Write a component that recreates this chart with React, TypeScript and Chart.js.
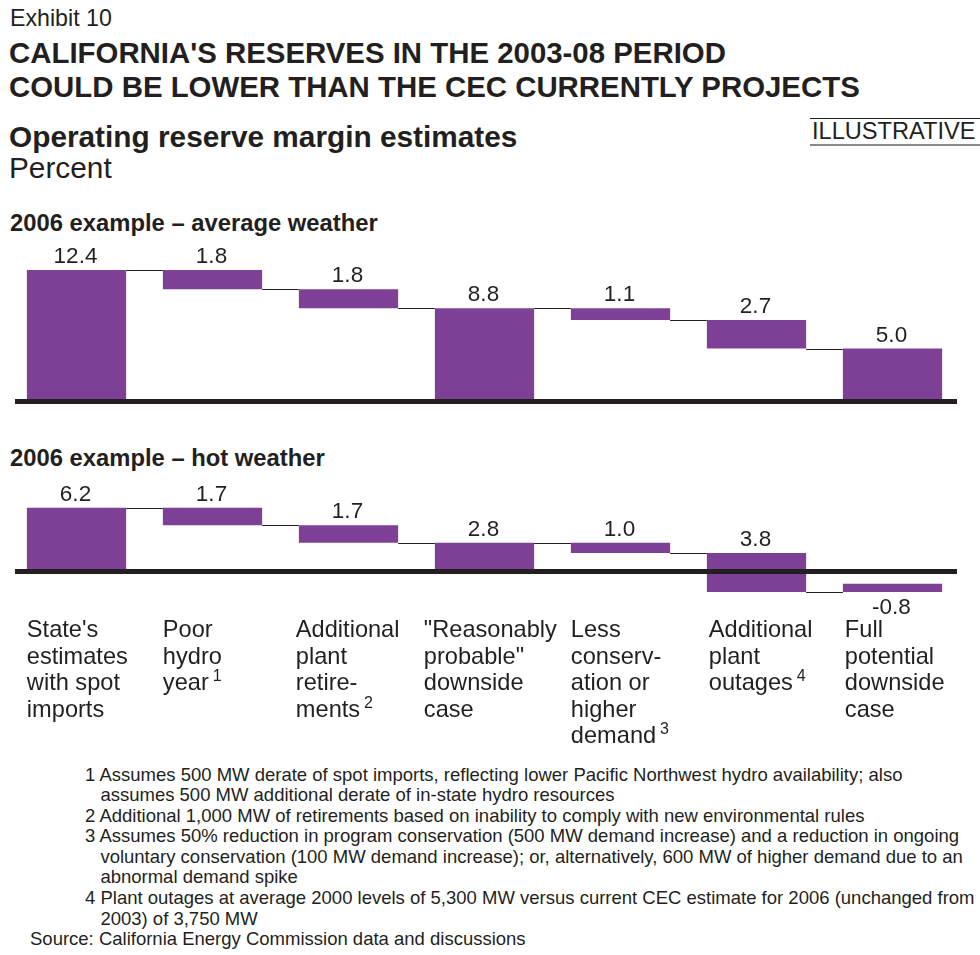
import React, { useEffect, useRef } from "react";
import { Chart, registerables } from "chart.js";

Chart.register(...registerables);

// ---------- DATA ----------
const categoryLines: string[][] = [
  ["State's", "estimates", "with spot", "imports"],
  ["Poor", "hydro", "year"],
  ["Additional", "plant", "retire-", "ments"],
  ["\"Reasonably", "probable\"", "downside", "case"],
  ["Less", "conserv-", "ation or", "higher", "demand"],
  ["Additional", "plant", "outages"],
  ["Full", "potential", "downside", "case"],
];
const categoryNotes: string[] = ["", "1", "2", "", "3", "4", ""];

// 2006 example – average weather
const avgLow: number[] = [0, 10.6, 8.8, 0, 7.7, 5.0, 0];
const avgHigh: number[] = [12.4, 12.4, 10.6, 8.8, 8.8, 7.7, 5.0];
const avgValues: number[] = [12.4, 1.8, 1.8, 8.8, 1.1, 2.7, 5.0];

// 2006 example – hot weather
const hotLow: number[] = [0, 4.5, 2.8, 0, 1.8, -2.0, -2.0];
const hotHigh: number[] = [6.2, 6.2, 4.5, 2.8, 2.8, 1.8, -1.2];
const hotValues: number[] = [6.2, 1.7, 1.7, 2.8, 1.0, 3.8, -0.8];

const footnotes: string[][] = [
  ["1 Assumes 500 MW derate of spot imports, reflecting lower Pacific Northwest hydro availability; also", "assumes 500 MW additional derate of in-state hydro resources"],
  ["2 Additional 1,000 MW of retirements based on inability to comply with new environmental rules"],
  ["3 Assumes 50% reduction in program conservation (500 MW demand increase) and a reduction in ongoing", "voluntary conservation (100 MW demand increase); or, alternatively, 600 MW of higher demand due to an", "abnormal demand spike"],
  ["4 Plant outages at average 2000 levels of 5,300 MW versus current CEC estimate for 2006 (unchanged from", "2003) of 3,750 MW"],
];
const sourceText = "Source: California Energy Commission data and discussions";

// ---------- STYLE ----------
const FONT = "'Liberation Sans', Arial, Helvetica, sans-serif";
const PURPLE = "#7e3f97";
const INK = "#231f20";

type WFOpts = {
  values: number[];
  low: number[];
  high: number[];
  showCategories: boolean;
};

const waterfallPlugin = {
  id: "waterfallDecor",
  afterDatasetsDraw(chart: any, _args: any, opts: WFOpts) {
    const ctx = chart.ctx;
    const meta = chart.getDatasetMeta(0);
    const yScale = chart.scales.y;
    const area = chart.chartArea;
    const bars = meta.data;
    const { low, high, values } = opts;
    ctx.save();

    // connectors
    ctx.strokeStyle = INK;
    ctx.lineWidth = 1;
    for (let i = 0; i < bars.length - 1; i++) {
      const a = [low[i], high[i]];
      const b = [low[i + 1], high[i + 1]];
      let level: number | null = null;
      for (const va of a) for (const vb of b) if (level === null && Math.abs(va - vb) < 1e-6) level = va;
      if (level === null) continue;
      const y = Math.round(yScale.getPixelForValue(level)) + 0.5;
      const x1 = bars[i].x + bars[i].width / 2;
      const x2 = bars[i + 1].x - bars[i + 1].width / 2;
      ctx.beginPath();
      ctx.moveTo(x1, y);
      ctx.lineTo(x2, y);
      ctx.stroke();
    }

    // zero axis line
    const zero = yScale.getPixelForValue(0);
    ctx.fillStyle = INK;
    ctx.fillRect(area.left + 6.5, zero - 2.5, area.right - area.left - 10, 5);

    // value labels
    ctx.font = `22.5px ${FONT}`;
    ctx.textAlign = "center";
    ctx.textBaseline = "alphabetic";
    ctx.fillStyle = INK;
    bars.forEach((bar: any, i: number) => {
      const top = Math.min(bar.y, bar.base);
      const bottom = Math.max(bar.y, bar.base);
      const txt = values[i].toFixed(1);
      if (values[i] >= 0) ctx.fillText(txt, bar.x - 1, top - 7);
      else ctx.fillText(txt, bar.x - 1, bottom + 22);
    });

    // category labels
    if (opts.showCategories) {
      const shift = [0, 0, -3, -11, 0, 2, 2];
      ctx.textAlign = "left";
      bars.forEach((bar: any, i: number) => {
        const x = bar.x - bar.width / 2 + shift[i];
        const lines = categoryLines[i];
        lines.forEach((ln, k) => {
          const by = zero + 65.5 + k * 26.6;
          ctx.font = `23.6px ${FONT}`;
          ctx.fillText(ln, x, by);
          if (k === lines.length - 1 && categoryNotes[i]) {
            const w = ctx.measureText(ln).width;
            ctx.font = `16px ${FONT}`;
            ctx.fillText(categoryNotes[i], x + w + 4, by - 9);
          }
        });
      });
    }
    ctx.restore();
  },
};

type WaterfallProps = {
  low: number[];
  high: number[];
  values: number[];
  top: number;
  height: number;
  zeroY: number;
  pxPerUnit: number;
  yMin: number;
  yMax: number;
  showCategories: boolean;
};

function Waterfall(p: WaterfallProps) {
  const ref = useRef<HTMLCanvasElement | null>(null);
  useEffect(() => {
    if (!ref.current) return;
    const areaTop = p.zeroY - p.yMax * p.pxPerUnit - p.top;
    const areaBottom = p.zeroY - p.yMin * p.pxPerUnit - p.top;
    const chart = new Chart(ref.current, {
      type: "bar",
      data: {
        labels: categoryLines.map((l) => l.join(" ")),
        datasets: [
          {
            data: p.low.map((l, i) => [l, p.high[i]]) as any,
            backgroundColor: PURPLE,
            borderWidth: 0,
            barPercentage: 0.73,
            categoryPercentage: 1,
          },
        ],
      },
      options: {
        responsive: false,
        animation: false,
        events: [],
        layout: {
          padding: { top: areaTop, bottom: p.height - areaBottom, left: 8.5, right: 19.5 },
        },
        scales: {
          x: { display: false },
          y: { display: false, min: p.yMin, max: p.yMax },
        },
        plugins: {
          legend: { display: false },
          tooltip: { enabled: false },
          waterfallDecor: {
            values: p.values,
            low: p.low,
            high: p.high,
            showCategories: p.showCategories,
          },
        } as any,
      },
      plugins: [waterfallPlugin],
    });
    return () => chart.destroy();
  }, []);
  return (
    <canvas
      ref={ref}
      width={980}
      height={p.height}
      style={{ position: "absolute", left: 0, top: p.top, width: 980, height: p.height }}
    />
  );
}

function T(props: { x: number; base: number; size: number; bold?: boolean; children: React.ReactNode }) {
  const { x, base, size, bold } = props;
  return (
    <div
      style={{
        position: "absolute",
        left: x,
        top: base - 0.8465 * size,
        fontSize: size,
        lineHeight: `${size}px`,
        fontWeight: bold ? 700 : 400,
        whiteSpace: "nowrap",
        color: INK,
      }}
    >
      {props.children}
    </div>
  );
}

export default function App() {
  return (
    <div
      style={{
        position: "absolute",
        left: 0,
        top: 0,
        width: 980,
        height: 955,
        background: "#ffffff",
        fontFamily: FONT,
        color: INK,
        overflow: "hidden",
      }}
    >
      <T x={10} base={27} size={23.2}>Exhibit 10</T>
      <T x={9} base={63} size={29.4} bold>CALIFORNIA'S RESERVES IN THE 2003-08 PERIOD</T>
      <T x={9} base={97} size={29.4} bold>COULD BE LOWER THAN THE CEC CURRENTLY PROJECTS</T>
      <T x={9} base={147} size={29.8} bold>Operating reserve margin estimates</T>
      <T x={9} base={178} size={29.8}>Percent</T>

      <div style={{ position: "absolute", left: 810, top: 118, width: 170, height: 1, background: INK }} />
      <T x={812} base={140} size={23.6}>ILLUSTRATIVE</T>
      <div style={{ position: "absolute", left: 810, top: 144, width: 170, height: 2, background: "#8a8a8a" }} />

      <T x={10} base={231} size={23.8} bold>2006 example – average weather</T>
      <T x={10} base={466} size={23.8} bold>2006 example – hot weather</T>

      <Waterfall
        low={avgLow}
        high={avgHigh}
        values={avgValues}
        top={238}
        height={185}
        zeroY={401.5}
        pxPerUnit={10.6}
        yMin={-1}
        yMax={14}
        showCategories={false}
      />
      <Waterfall
        low={hotLow}
        high={hotHigh}
        values={hotValues}
        top={474}
        height={285}
        zeroY={571.5}
        pxPerUnit={10.3}
        yMin={-3}
        yMax={7}
        showCategories={true}
      />

      <div
        style={{
          position: "absolute",
          left: 85,
          top: 764.5,
          fontSize: 18.5,
          lineHeight: "20.6px",
          color: INK,
          whiteSpace: "nowrap",
        }}
      >
        {footnotes.map((fn, i) => (
          <div key={i} style={{ paddingLeft: 15.4, textIndent: -15.4 }}>
            {fn.map((ln, k) => (
              <React.Fragment key={k}>
                {k > 0 && <br />}
                {ln}
              </React.Fragment>
            ))}
          </div>
        ))}
        <div style={{ marginLeft: -55 }}>{sourceText}</div>
      </div>
    </div>
  );
}
